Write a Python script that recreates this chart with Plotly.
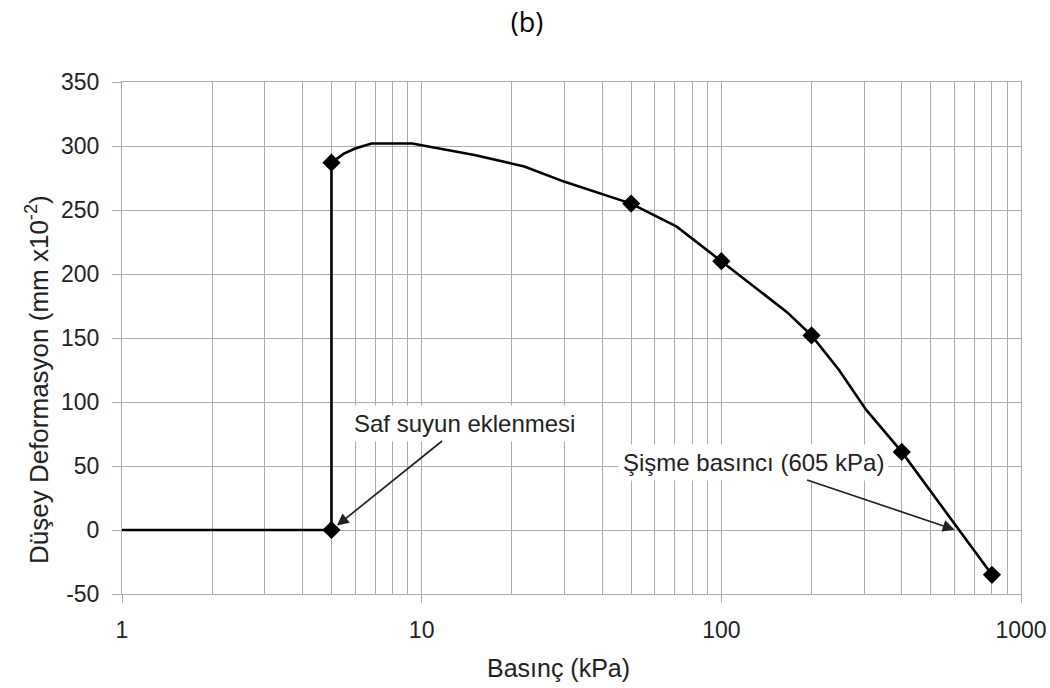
import numpy as np
import plotly.graph_objects as go

# Smoothed curve (pressure kPa, vertical deformation mm x10^-2)
curve_kpa = [1, 5, 5, 5.5, 6, 6.8, 9.3, 15, 22, 30, 50, 71, 100, 166, 200, 247, 304, 400, 800]
curve_def = [0, 0, 287, 294, 298, 302, 302, 293, 284, 272, 255, 237, 210, 170, 152, 125, 94, 61, -35]

# Measured points (diamond markers)
point_kpa = [5, 5, 50, 100, 200, 400, 800]
point_def = [0, 287, 255, 210, 152, 61, -35]

# Axis ticks
x_ticks = [1, 10, 100, 1000]
x_ticktext = ["1", "10", "100", "1000"]
x_minor = [m * d for d in (1, 10, 100) for m in range(2, 10)]
y_ticks = [-50, 0, 50, 100, 150, 200, 250, 300, 350]
y_ticktext = ["-50", "0", "50", "100", "150", "200", "250", "300", "350"]

# Annotations
water_kpa, water_def = 5, 0
swell_kpa, swell_def = 605, 0
water_label = "Saf suyun eklenmesi"
swell_label = "Şişme basıncı (605 kPa)"

FONT = "Liberation Sans, Arial, sans-serif"
GRID = "#ababab"
TXT = "#222222"

fig = go.Figure()
fig.add_trace(go.Scatter(
    x=curve_kpa, y=curve_def, mode="lines",
    line=dict(color="black", width=2.6), hoverinfo="skip", showlegend=False))
fig.add_trace(go.Scatter(
    x=point_kpa, y=point_def, mode="markers",
    marker=dict(symbol="diamond", size=14, color="black"), showlegend=False))

fig.update_xaxes(
    type="log", range=[0, 3],
    tickmode="array", tickvals=x_ticks, ticktext=x_ticktext,
    ticks="outside", ticklen=8, tickcolor=GRID, tickwidth=1,
    showgrid=True, gridcolor=GRID, gridwidth=1,
    minor=dict(tickmode="array", tickvals=x_minor, showgrid=True,
               gridcolor=GRID, gridwidth=1, ticks=""),
    showline=True, linecolor=GRID, linewidth=1, mirror=True,
    tickfont=dict(family=FONT, size=23, color=TXT),
    ticklabelstandoff=7, zeroline=False, automargin=False)
fig.update_yaxes(
    range=[-50, 350], tickmode="array", tickvals=y_ticks, ticktext=y_ticktext,
    ticks="outside", ticklen=9, tickcolor=GRID, tickwidth=1,
    showgrid=True, gridcolor=GRID, gridwidth=1,
    showline=True, linecolor=GRID, linewidth=1, mirror=True,
    tickfont=dict(family=FONT, size=23, color=TXT),
    ticklabelstandoff=8, zeroline=False, automargin=False)

annots = [
    dict(x=np.log10(water_kpa), y=water_def, xref="x", yref="y",
         text=water_label, showarrow=True, ax=133, ay=-107,
         arrowhead=2, arrowsize=1.4, arrowwidth=1.7, arrowcolor=TXT, standoff=7,
         bgcolor="white", borderpad=4,
         font=dict(family=FONT, size=24, color=TXT)),
    dict(x=np.log10(swell_kpa), y=swell_def, xref="x", yref="y",
         text=swell_label, showarrow=True, ax=-202, ay=-68,
         arrowhead=2, arrowsize=1.4, arrowwidth=1.7, arrowcolor=TXT, standoff=1,
         bgcolor="white", borderpad=4,
         font=dict(family=FONT, size=24, color=TXT)),
    dict(x=-0.0934, y=0.418, xref="paper", yref="paper",
         text="Düşey Deformasyon (mm x10<sup>-2</sup>)", textangle=-90,
         showarrow=False, xanchor="center", yanchor="middle",
         font=dict(family=FONT, size=26, color=TXT)),
    dict(x=0.486, y=-0.1445, xref="paper", yref="paper",
         text="Basınç (kPa)", showarrow=False,
         xanchor="center", yanchor="middle",
         font=dict(family=FONT, size=25, color=TXT)),
]

fig.update_layout(
    width=1050, height=688,
    margin=dict(l=122, r=29, t=82, b=94, autoexpand=False),
    paper_bgcolor="white", plot_bgcolor="white",
    title=dict(text="(b)", x=0.502, y=1 - 23 / 688, xanchor="center", yanchor="middle",
               font=dict(family="Open Sans, sans-serif", size=27, color="black")),
    annotations=annots,
    showlegend=False,
)

fig.write_html("out.html",
               config={"displayModeBar": False},
               post_script="document.body.style.margin='0';document.body.style.padding='0';")
